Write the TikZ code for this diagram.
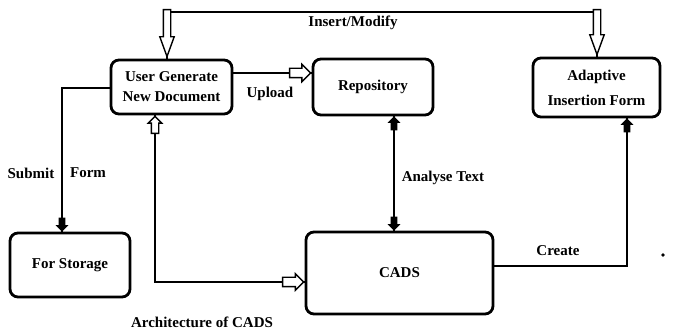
\documentclass[tikz,border=0pt]{standalone}
\usepackage{fontspec}
\setmainfont{Liberation Serif}
\usetikzlibrary{shapes.arrows}
\begin{document}
\begin{tikzpicture}[x=1pt,y=-1pt,
  box/.style={draw, line width=2.8pt, rounded corners=8pt, align=center, inner sep=0pt,
    font=\fontsize{15}{20}\selectfont\bfseries},
  conn/.style={line width=2.6pt},
  lbl/.style={font=\fontsize{15}{18}\selectfont\bfseries, inner sep=0pt},
  hollowarr/.style={single arrow, draw, line width=1.4pt, fill=white, inner xsep=0pt,
    single arrow head indent=0pt, anchor=tip},
  solidarr/.style={single arrow, draw, line width=0.8pt, fill=black, inner xsep=0pt,
    inner ysep=2.5pt, single arrow head indent=0pt, anchor=tip, minimum height=13pt,
    single arrow head extend=2.5pt, single arrow tip angle=90}
]
\useasboundingbox (0,0) rectangle (689,331);

% boxes
\node[box, minimum width=121pt, minimum height=54pt] (user) at (171.5,87) {User Generate\\New Document};
\node[box, minimum width=120pt, minimum height=56pt] (repo) at (373,87) {\raisebox{4pt}{Repository}};
\node[box, minimum width=127pt, minimum height=59pt] (adapt) at (596.5,87.5) {Adaptive\\[5pt]Insertion Form};
\node[box, minimum width=120pt, minimum height=64pt] (storage) at (70,265) {For Storage};
\node[box, minimum width=187pt, minimum height=82pt] (cads) at (399.5,273) {CADS};

% Insert/Modify
\draw[conn] (167,0 |- user.north) -- (167,12) -- (597,12) -- (597,0 |- adapt.north);
\node[hollowarr, rotate=-90, minimum height=47pt, inner ysep=3pt,
  single arrow head extend=3.5pt, single arrow tip angle=40] at (167,0 |- user.north) {};
\node[hollowarr, rotate=-90, minimum height=45pt, inner ysep=3pt,
  single arrow head extend=3.5pt, single arrow tip angle=40] at (597,0 |- adapt.north) {};
\node[lbl] at (353,23) {Insert/Modify};

% Upload
\draw[conn] (user.east |- 0,73) -- (repo.west |- 0,73);
\node[hollowarr, minimum height=21pt, inner ysep=4pt,
  single arrow head extend=4pt, single arrow tip angle=90] at (repo.west |- 0,73) {};
\node[lbl] at (270,94) {Upload};

% Submit Form
\draw[conn] (user.west |- 0,88) -- (62,88) -- (62,0 |- storage.north);
\node[solidarr, rotate=-90] at (62,0 |- storage.north) {};
\node[lbl] at (31,173) {Submit};
\node[lbl] at (88,173) {Form};

% User <-> CADS
\draw[conn] (155,0 |- user.south) -- (155,282) -- (cads.west |- 0,282);
\node[hollowarr, rotate=90, minimum height=17pt, inner ysep=3pt,
  single arrow head extend=3pt, single arrow tip angle=90] at (155,0 |- user.south) {};
\node[hollowarr, minimum height=21pt, inner ysep=4pt,
  single arrow head extend=3.5pt, single arrow tip angle=90] at (cads.west |- 0,282) {};

% Repository <-> CADS
\draw[conn] (394,0 |- repo.south) -- (394,0 |- cads.north);
\node[solidarr, rotate=90] at (394,0 |- repo.south) {};
\node[solidarr, rotate=-90] at (394,0 |- cads.north) {};
\node[lbl] at (443,178) {Analyse Text};

% CADS -> Adaptive
\draw[conn] (cads.east |- 0,266) -- (627,266) -- (627,0 |- adapt.south);
\node[solidarr, rotate=90] at (627,0 |- adapt.south) {};
\node[lbl] at (558,251) {Create};

% dot and caption
\fill (663,255) circle (1.8pt);
\node[lbl] at (202,322) {Architecture of CADS};
\end{tikzpicture}
\end{document}
